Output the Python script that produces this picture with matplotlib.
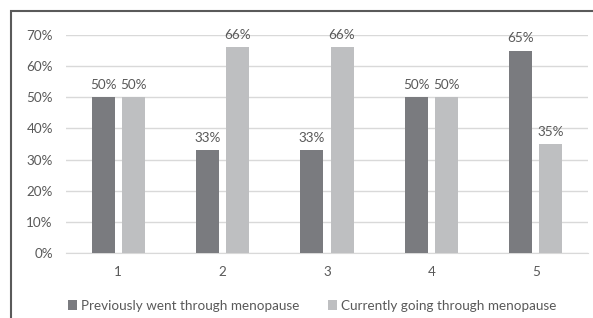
import matplotlib
matplotlib.use("Agg")
import matplotlib.pyplot as plt
from matplotlib.patches import Rectangle
import numpy as np

# Data
categories = ["1", "2", "3", "4", "5"]
previously = [50, 33, 33, 50, 65]
currently = [50, 66, 66, 50, 35]
series_names = ["Previously went through menopause", "Currently going through menopause"]

dark = "#7a7b7f"
light = "#bebfc1"
text_color = "#595959"
fs = 9.7

plt.rcParams["font.family"] = ["Lato", "DejaVu Sans"]

fig = plt.figure(figsize=(5.93, 3.18), dpi=100)
ax = fig.add_axes([0.1113, 0.2044, 0.8803, 0.6856])

x = np.arange(len(categories))
offset = 0.144
width = 0.22
b1 = ax.bar(x - offset, previously, width, color=dark, label=series_names[0], zorder=3)
b2 = ax.bar(x + offset, currently, width, color=light, label=series_names[1], zorder=3)

for bars in (b1, b2):
    for rect in bars:
        h = rect.get_height()
        ax.annotate(f"{h:.0f}%", (rect.get_x() + rect.get_width() / 2, h),
                    xytext=(0, 4.5), textcoords="offset points",
                    ha="center", va="bottom", fontsize=fs, color=text_color)

ax.set_xlim(-0.5, len(categories) - 0.5)
ax.set_ylim(0, 70)
ax.set_yticks(range(0, 71, 10))
ax.set_yticklabels([f"{v}%" for v in range(0, 71, 10)])
ax.set_xticks(x)
ax.set_xticklabels(categories)
ax.yaxis.grid(True, color="#d9d9d9", linewidth=1, zorder=0)
ax.tick_params(axis="both", length=0, labelsize=fs, labelcolor=text_color)
ax.tick_params(axis="y", pad=9.5)
ax.tick_params(axis="x", pad=9)
for s in ["top", "right", "left"]:
    ax.spines[s].set_visible(False)
ax.spines["bottom"].set_color("#d9d9d9")

leg = fig.legend(loc="center", bbox_to_anchor=(0.5266, 0.038), ncol=2, frameon=False,
                 fontsize=fs, handlelength=0.7, handleheight=0.7, handletextpad=0.3,
                 columnspacing=2.1)
for t in leg.get_texts():
    t.set_color(text_color)

# outer chart border (cropped at right and bottom in the reference)
fig.patches.append(Rectangle((11 / 593, -0.1), 1.2, 1 - 11 / 318 + 0.1,
                             transform=fig.transFigure, fill=False,
                             edgecolor="#5a5a5a", linewidth=1.5))

fig.savefig("out.png", dpi=100)
